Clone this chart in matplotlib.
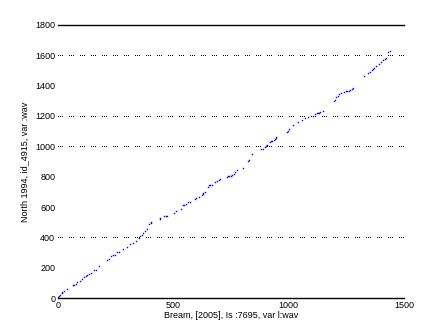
import matplotlib
matplotlib.use("Agg")
import matplotlib.pyplot as plt

x_vals = [1, 4, 9, 16, 19, 27, 40, 64, 69, 77, 82, 97, 103, 111, 120, 127, 134, 143, 157, 166,
          178, 214, 222, 231, 240, 247, 256, 264, 283, 300, 313, 326, 337, 350, 357, 363, 370, 377, 385, 395,
          402, 404, 440, 443, 461, 467, 474, 504, 512, 535, 543, 546, 555, 565, 571, 595, 600, 613, 626, 627,
          630, 639, 652, 656, 661, 666, 682, 689, 697, 704, 734, 738, 743, 749, 753, 764, 766, 777, 803, 825,
          829, 842, 880, 887, 899, 901, 905, 920, 925, 929, 935, 939, 944, 946, 994, 998, 1003, 1020, 1040, 1058,
          1072, 1085, 1107, 1115, 1124, 1129, 1133, 1137, 1150, 1198, 1202, 1206, 1215, 1219, 1229, 1239, 1250, 1255, 1260, 1266,
          1273, 1280, 1328, 1345, 1354, 1363, 1367, 1371, 1380, 1390, 1402, 1410, 1419, 1423, 1432, 1441]
y_vals = [5, 13, 22, 31, 40, 48, 57, 84, 84, 94, 107, 114, 123, 136, 145, 150, 158, 167, 183, 185,
          209, 249, 259, 275, 284, 284, 301, 301, 321, 338, 356, 365, 378, 398, 407, 417, 429, 444, 457, 486,
          496, 501, 518, 525, 541, 541, 541, 562, 574, 587, 611, 613, 622, 631, 635, 653, 659, 668, 679, 688,
          694, 701, 732, 745, 745, 745, 765, 771, 778, 783, 796, 804, 804, 804, 811, 820, 829, 844, 855, 901,
          910, 947, 980, 980, 998, 1004, 1009, 1027, 1033, 1037, 1044, 1050, 1057, 1061, 1092, 1103, 1112, 1139, 1158, 1172,
          1185, 1191, 1202, 1213, 1220, 1220, 1220, 1226, 1233, 1297, 1307, 1323, 1335, 1345, 1350, 1356, 1363, 1363, 1363, 1371,
          1378, 1383, 1462, 1481, 1488, 1501, 1508, 1514, 1528, 1545, 1558, 1567, 1574, 1580, 1620, 1627]

x_ticks = [0, 500, 1000, 1500]
y_ticks = [0, 200, 400, 600, 800, 1000, 1200, 1400, 1600, 1800]
grid_levels = [400, 1000, 1200, 1600]
x_label = "Bream, [2005], Is :7695, var l:wav"
y_label = "North 1994, id_4915, var :wav"

plt.rcParams['font.family'] = ['Liberation Sans', 'DejaVu Sans']

fig = plt.figure(figsize=(4.47, 3.35), dpi=100)
ax = fig.add_axes([0.1298, 0.1104, 0.774, 0.815])

ax.plot(x_vals, y_vals, linestyle='none', marker='s', markersize=1.0,
        markeredgewidth=0, color='#0000ff', antialiased=False)

ax.set_xlim(0, 1500)
ax.set_ylim(0, 1800)
ax.set_xticks(x_ticks)
ax.set_yticks(y_ticks)
ax.set_yticks(grid_levels, minor=True)
ax.tick_params(axis='both', which='major', length=0, labelsize=6.5, pad=2)
ax.tick_params(axis='y', which='minor', length=3, width=0.8, direction='in',
               left=True, right=True)
ax.tick_params(axis='x', which='minor', length=0)

for lvl in grid_levels:
    ax.axhline(lvl, color='black', linewidth=0.72, antialiased=False,
               linestyle=(0, (1, 2, 1, 2, 1, 6)), zorder=0)

for side in ('left', 'right'):
    ax.spines[side].set_visible(False)
for side in ('top', 'bottom'):
    ax.spines[side].set_linewidth(1.0)

ax.set_xlabel(x_label, fontsize=6.5, labelpad=1)
ax.set_ylabel(y_label, fontsize=6.5, labelpad=4)

fig.savefig("out.png", dpi=100)
